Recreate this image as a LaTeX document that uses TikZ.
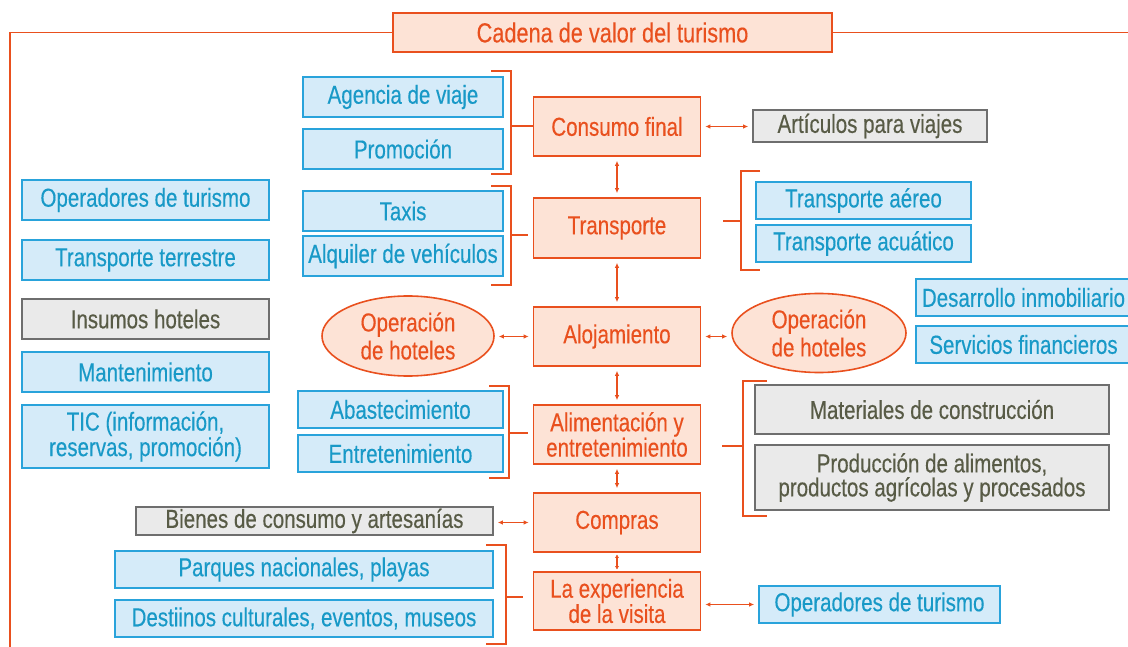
\documentclass[tikz,border=0pt]{standalone}
\usepackage{fontspec}
\setmainfont{Liberation Sans}[FakeStretch=0.79,FakeBold=0.3]
\usetikzlibrary{arrows.meta,shapes.geometric,calc}
\definecolor{orng}{RGB}{233,80,30}
\definecolor{peach}{RGB}{253,227,214}
\definecolor{bluD}{RGB}{41,163,219}
\definecolor{bluF}{RGB}{213,235,249}
\definecolor{bluT}{RGB}{24,153,199}
\definecolor{gryD}{RGB}{110,110,110}
\definecolor{gryF}{RGB}{234,234,234}
\definecolor{gryT}{RGB}{88,91,70}
\tikzset{
  basebox/.style={rectangle, inner sep=0pt, line width=1.6bp, align=center,
    font=\fontsize{26bp}{24bp}\selectfont},
  core/.style={basebox, draw=orng, fill=peach, text=orng, minimum width=167bp},
  blu/.style={basebox, draw=bluD, fill=bluF, text=bluT},
  gry/.style={basebox, draw=gryD, fill=gryF, text=gryT},
  oval/.style={ellipse, inner sep=0pt, line width=1.6bp, draw=orng, fill=peach, text=orng,
    align=center, font=\fontsize{26bp}{28bp}\selectfont},
  link/.style={draw=orng, line width=1.4bp, {Latex[length=5bp,width=4.5bp]}-{Latex[length=5bp,width=4.5bp]},
    shorten >=4bp, shorten <=4bp},
  shortlink/.style={draw=orng, line width=1.4bp, {Latex[length=3.5bp,width=4bp]}-{Latex[length=3.5bp,width=4bp]},
    shorten >=1.5bp, shorten <=1.5bp},
  brk/.style={draw=orng, line width=1.6bp},
}
\begin{document}
\begin{tikzpicture}[x=1bp,y=-1bp]
\useasboundingbox (0,0) rectangle (1128,647);
% title and frame
\node[core, minimum width=439bp, minimum height=39bp, font=\fontsize{27.5bp}{26bp}\selectfont] (title) at (612.5,32.5) {Cadena de valor del turismo};
\draw[brk] (title.west) -- (10,32.5) -- (10,650);
\draw[brk] (title.east) -- (1132,32.5);
% central column
\node[core, minimum height=59bp] (cf) at (617,126.5) {Consumo final};
\node[core, minimum height=60bp] (tr) at (617,228) {Transporte};
\node[core, minimum height=59bp] (al) at (617,336.5) {Alojamiento};
\node[core, minimum height=59bp] (ae) at (617,434.5) {Alimentación y\\entretenimiento};
\node[core, minimum height=59bp] (co) at (617,522.5) {Compras};
\node[core, minimum height=58bp] (ex) at (617,601) {La experiencia\\de la visita};
\draw[link] (cf) -- (tr);
\draw[link] (tr) -- (al);
\draw[link] (al) -- (ae);
\draw[link] (ae) -- (co);
\draw[shortlink] (co) -- (ex);
% left of central
\node[blu, minimum width=200bp, minimum height=40bp] (ag) at (403,97) {Agencia de viaje};
\node[blu, minimum width=200bp, minimum height=40bp] (pr) at (403,149) {Promoción};
\node[blu, minimum width=200bp, minimum height=40bp] (tx) at (403,211) {Taxis};
\node[blu, minimum width=200bp, minimum height=40bp] (aq) at (403,256) {Alquiler de vehículos};
\node[blu, minimum width=205bp, minimum height=37bp] (ab) at (400.5,409.5) {Abastecimiento};
\node[blu, minimum width=205bp, minimum height=37bp] (en) at (400.5,453.5) {Entretenimiento};
\node[gry, minimum width=357bp, minimum height=28bp] (bi) at (314.5,521) {Bienes de consumo y artesanías};
\node[blu, minimum width=378bp, minimum height=37bp] (pq) at (304,569.5) {Parques nacionales, playas};
\node[blu, minimum width=378bp, minimum height=37bp] (ds) at (304,618.5) {Destiinos culturales, eventos, museos};
% far left column
\node[blu, minimum width=247bp, minimum height=40bp] (op1) at (145.5,200) {Operadores de turismo};
\node[blu, minimum width=247bp, minimum height=40bp] (tt) at (145.5,260) {Transporte terrestre};
\node[gry, minimum width=247bp, minimum height=40bp] (ih) at (145.5,319) {Insumos hoteles};
\node[blu, minimum width=247bp, minimum height=40bp] (mt) at (145.5,372) {Mantenimiento};
\node[blu, minimum width=247bp, minimum height=63bp] (tic) at (145.5,436.5) {TIC (información,\\reservas, promoción)};
% ellipses
\node[oval, minimum width=172bp, minimum height=80bp] (ohl) at (408,336) {Operación\\de hoteles};
\node[oval, minimum width=174bp, minimum height=79bp] (ohr) at (819,333) {Operación\\de hoteles};
\draw[link] (al.west) -- (al.west -| ohl.east);
\draw[link] (al.east) -- (al.east -| ohr.west);
% right side
\node[gry, minimum width=234bp, minimum height=32bp] (art) at (870,126) {Artículos para viajes};
\node[blu, minimum width=215bp, minimum height=37bp] (ta) at (863.5,200.5) {Transporte aéreo};
\node[blu, minimum width=215bp, minimum height=37bp] (tq) at (863.5,243.5) {Transporte acuático};
\node[blu, minimum width=215bp, minimum height=37bp] (di) at (1023.5,297.5) {Desarrollo inmobiliario};
\node[blu, minimum width=215bp, minimum height=37bp] (sf) at (1023.5,344.5) {Servicios financieros};
\node[gry, minimum width=354bp, minimum height=49bp] (mc) at (932,409.5) {Materiales de construcción};
\node[gry, minimum width=354bp, minimum height=65bp] (pa) at (932,477.5) {Producción de alimentos,\\productos agrícolas y procesados};
\node[blu, minimum width=241bp, minimum height=37bp] (op2) at (879.5,604.5) {Operadores de turismo};
\draw[link] (cf.east) -- (cf.east -| art.west);
\draw[link] (co.west) -- (co.west -| bi.east);
\draw[link] (ex.east |- op2.west) -- (op2.west);
% brackets
\draw[brk] (491,71) -- (511,71) -- (511,174) -- (491,174);
\draw[brk] (511,126) -- (cf.west |- 0,126);
\draw[brk] (491,186) -- (511,186) -- (511,285) -- (491,285);
\draw[brk] (511,235) -- ($(tr.west |- 0,235)+(-5,0)$);
\draw[brk] (760,171) -- (741,171) -- (741,270) -- (760,270);
\draw[brk] (741,221) -- ($(tr.east |- 0,221)+(22,0)$);
\draw[brk] (489,386) -- (509,386) -- (509,478) -- (489,478);
\draw[brk] (509,433) -- ($(ae.west |- 0,433)+(-5,0)$);
\draw[brk] (767,381) -- (743,381) -- (743,516) -- (767,516);
\draw[brk] (743,446) -- ($(ae.east |- 0,446)+(21,0)$);
\draw[brk] (486,545) -- (506,545) -- (506,644) -- (486,644);
\draw[brk] (506,597) -- ($(ex.west |- 0,597)+(-10,0)$);
\end{tikzpicture}
\end{document}
